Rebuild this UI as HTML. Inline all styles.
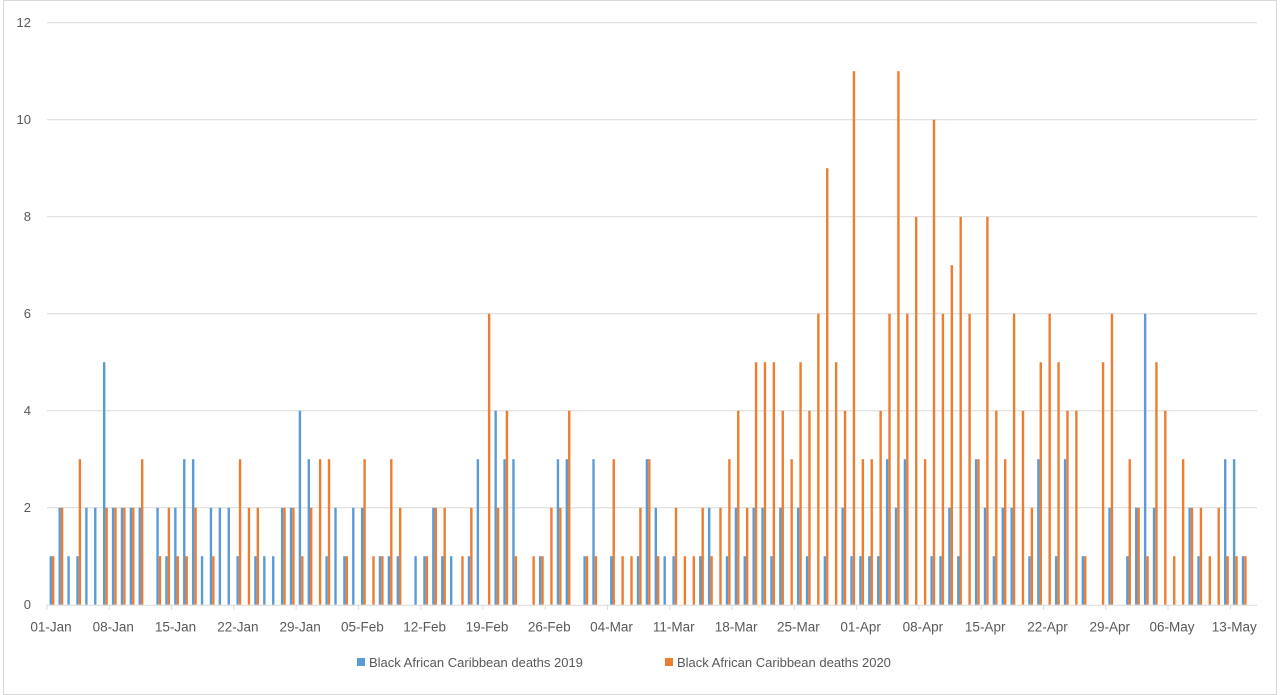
<!DOCTYPE html>
<html><head><meta charset="utf-8"><style>
html,body{margin:0;padding:0;background:#fff;}
svg{display:block;font-family:"Liberation Sans",sans-serif;}
</style></head><body>
<svg id="chart" width="1280" height="695" viewBox="0 0 1280 695" xmlns="http://www.w3.org/2000/svg">
<rect x="3.5" y="0.5" width="1273" height="694" fill="#fff" stroke="#d9d9d9"/>
<g id="grid"></g>
<g id="ylabels"></g>
<g id="bars"></g>
<g id="xaxis"></g>
<g>
<rect x="357" y="658" width="8" height="8" fill="#5b9bd5"/>
<text x="369" y="667" font-size="13" fill="#595959">Black African Caribbean deaths 2019</text>
<rect x="665" y="658" width="8" height="8" fill="#ed7d31"/>
<text x="677" y="667" font-size="13" fill="#595959">Black African Caribbean deaths 2020</text>
</g>
</svg>
<script>
const deaths2019 = [1,2,1,1,2,2,5,2,2,2,2,0,2,1,2,3,3,1,2,2,2,1,0,1,1,1,2,2,4,3,0,1,2,1,2,2,0,1,1,1,0,1,1,2,1,1,0,1,3,0,4,3,3,0,0,1,0,3,3,0,1,3,0,1,0,0,1,3,2,1,1,0,0,1,2,0,1,2,1,2,2,1,2,0,2,1,0,1,0,2,1,1,1,1,3,2,3,0,0,1,1,2,1,0,3,2,1,2,2,0,1,3,0,1,3,0,1,0,0,2,0,1,2,6,2,0,0,0,2,1,0,0,3,3,1,0];
const deaths2020 = [1,2,0,3,0,0,2,2,2,2,3,0,1,2,1,1,2,0,1,0,0,3,2,2,0,0,2,2,1,2,3,3,0,1,0,3,1,1,3,2,0,0,1,2,2,0,1,2,0,6,2,4,1,0,1,1,2,2,4,0,1,1,0,3,1,1,2,3,1,0,2,1,1,2,1,2,3,4,2,5,5,5,4,3,5,4,6,9,5,4,11,3,3,4,6,11,6,8,3,10,6,7,8,6,3,8,4,3,6,4,2,5,6,5,4,4,1,0,5,6,0,3,2,1,5,4,1,3,2,2,1,2,1,1,1,0];
const yTicks = [0,2,4,6,8,10,12];
const xTickLabels = ["01-Jan","08-Jan","15-Jan","22-Jan","29-Jan","05-Feb","12-Feb","19-Feb","26-Feb","04-Mar","11-Mar","18-Mar","25-Mar","01-Apr","08-Apr","15-Apr","22-Apr","29-Apr","06-May","13-May"];
const labelEvery = 7;

const NS="http://www.w3.org/2000/svg";
const plotL=47, plotR=1257, plotT=22.7, plotB=604.7, yMax=12;
const nCat=deaths2019.length;
const step=(plotR-plotL)/nCat;
const yScale=v=>plotB-(v/yMax)*(plotB-plotT);
const xCat=i=>plotL+i*step;
function mk(tag,parent){const e=document.createElementNS(NS,tag);document.getElementById(parent).appendChild(e);return e;}

yTicks.forEach(t=>{
  const y=yScale(t);
  if(t>0){
    const l=mk('line','grid');
    
    
    l.setAttribute('x1',plotL);l.setAttribute('x2',plotR);l.setAttribute('y1',y);l.setAttribute('y2',y);
    l.setAttribute('stroke','#d9d9d9');l.setAttribute('stroke-width','1');
  }
  const tx=mk('text','ylabels');
  
  
  tx.setAttribute('x',31);tx.setAttribute('y',y+4.5);tx.setAttribute('text-anchor','end');
  tx.setAttribute('font-size','13');tx.setAttribute('fill','#595959');
  tx.textContent=t;
});

const bw=2.4;
for(let i=0;i<nCat;i++){
  const x0=xCat(i)+2.6;
  [[deaths2019[i],'#5b9bd5',0,'bar-2019'],[deaths2020[i],'#ed7d31',bw,'bar-2020']].forEach(([v,c,off,name])=>{
    if(v<=0)return;
    const r=mk('rect','bars');
    
    
    r.setAttribute('x',x0+off);r.setAttribute('width',bw);
    r.setAttribute('y',yScale(v));r.setAttribute('height',plotB-yScale(v));
    r.setAttribute('fill',c);
  });
}

const ax=mk('line','xaxis');


ax.setAttribute('x1',plotL);ax.setAttribute('x2',plotR);ax.setAttribute('y1',plotB+0.5);ax.setAttribute('y2',plotB+0.5);
ax.setAttribute('stroke','#d9d9d9');

xTickLabels.forEach((lab,k)=>{
  const x=xCat(k*labelEvery);
  const tk=mk('line','xaxis');
  
  
  tk.setAttribute('x1',x);tk.setAttribute('x2',x);tk.setAttribute('y1',plotB);tk.setAttribute('y2',plotB+5);
  tk.setAttribute('stroke','#d9d9d9');
  const t=mk('text','xaxis');
  
  
  t.setAttribute('x',x+4);t.setAttribute('y',plotB+27);t.setAttribute('text-anchor','middle');
  t.setAttribute('font-size','13.5');t.setAttribute('fill','#595959');
  t.textContent=lab;
});
</script>
</body></html>
